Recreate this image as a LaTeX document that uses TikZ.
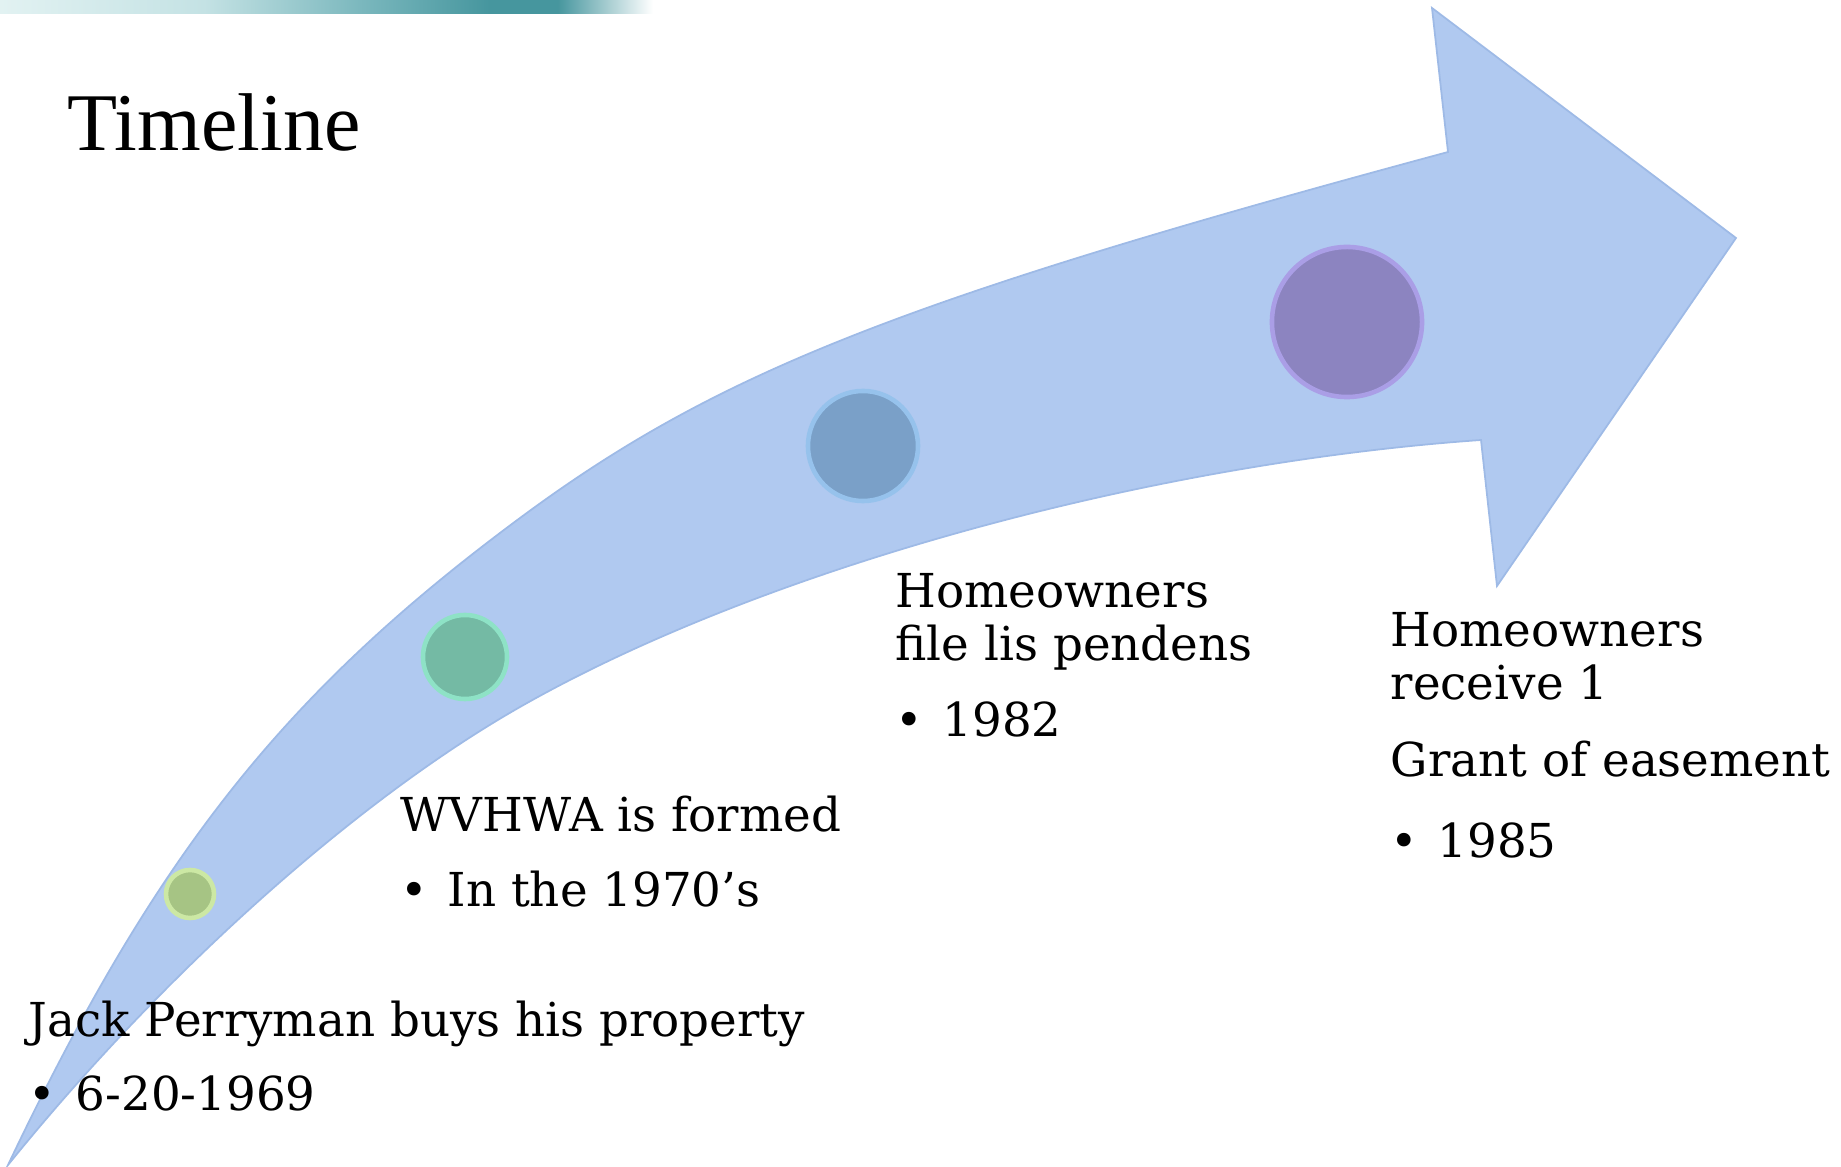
\documentclass[tikz,border=0pt]{standalone}
\usepackage{fontspec}
\setmainfont{DejaVu Serif}
\newfontfamily\titlefont{Liberation Serif}
\definecolor{arrowblue}{RGB}{176,201,240}
\definecolor{arrowedge}{RGB}{158,186,230}
\definecolor{bannerlight}{RGB}{226,242,242}
\definecolor{bannermid}{RGB}{196,226,228}
\definecolor{bannerteal}{RGB}{120,182,188}
\definecolor{bannerdark}{RGB}{70,150,158}
\definecolor{greenfill}{RGB}{166,196,132}
\definecolor{greenrim}{RGB}{204,232,164}
\definecolor{tealfill}{RGB}{116,186,164}
\definecolor{tealrim}{RGB}{142,226,198}
\definecolor{bluefill}{RGB}{122,160,200}
\definecolor{bluerim}{RGB}{150,194,236}
\definecolor{purplefill}{RGB}{140,132,192}
\definecolor{purplerim}{RGB}{170,158,230}
\pgfdeclarehorizontalshading{banner}{100bp}{color(0bp)=(bannerlight); color(25bp)=(bannerlight);
  color(40bp)=(bannermid); color(52bp)=(bannerteal); color(61bp)=(bannerdark); color(66bp)=(bannerdark);
  color(73bp)=(white); color(100bp)=(white)}
\newcommand{\bodyfont}{\fontsize{13.3}{16}\selectfont}
\newcommand{\bul}{\makebox[0.47cm][l]{•}}

\begin{document}
\begin{tikzpicture}[x=0.01cm, y=-0.01cm,
    lbl/.style={inner sep=0, anchor=base west, font=\bodyfont},
    dot/.style={circle, inner sep=0, line width=1.3pt}]
  \useasboundingbox (0,0) rectangle (1841,1167);
  % strip at the top
  \shade[shading=banner] (0,0) rectangle (680,14);
  \node[inner sep=0, anchor=base west, font=\titlefont\fontsize{23.3}{27}\selectfont] (title) at (67,151) {Timeline};
  % the bent arrow
  \draw[arrowedge, fill=arrowblue, line width=0.5pt, line join=miter]
    (8,1165) .. controls (155.8,854.5) and (283.8,692.8) .. (520,518)
    .. controls (716.4,372.6) and (901.2,299.5) .. (1448,152)
    -- (1432,8) -- (1736,238) -- (1497,586) -- (1481,440)
    .. controls (1143.8,463.6) and (759.6,570.4) .. (520,707)
    .. controls (356.3,800.3) and (161.8,974.4) .. (8,1165) -- cycle;
  % points on the arrow
  \node[dot, minimum size=0.48cm, fill=greenfill, draw=greenrim] (d1) at (190,894) {};
  \node[dot, minimum size=0.84cm, fill=tealfill, draw=tealrim] (d2) at (465,657) {};
  \node[dot, minimum size=1.10cm, fill=bluefill, draw=bluerim] (d3) at (863,446) {};
  \node[dot, minimum size=1.50cm, fill=purplefill, draw=purplerim] (d4) at (1347,322) {};
  % events
  \node[lbl] (jack) at (28,1037) {Jack Perryman buys his property};
  \node[lbl] (jackdate) at (28,1110) {\bul 6-20-1969};
  \node[lbl] (wvhwa) at (400,832) {WVHWA is formed};
  \node[lbl] (wvhwadate) at (400,907) {\bul In the 1970’s};
  \node[lbl] (lisa) at (895,608) {Homeowners};
  \node[lbl] (lisb) at (895,661) {file lis pendens};
  \node[lbl] (lisdate) at (895,737) {\bul 1982};
  \node[lbl] (granta) at (1390,647) {Homeowners};
  \node[lbl] (grantb) at (1390,700) {receive 1};
  \node[lbl] (grantc) at (1390,777) {Grant of easement};
  \node[lbl] (grantdate) at (1390,858) {\bul 1985};
\end{tikzpicture}
\end{document}
